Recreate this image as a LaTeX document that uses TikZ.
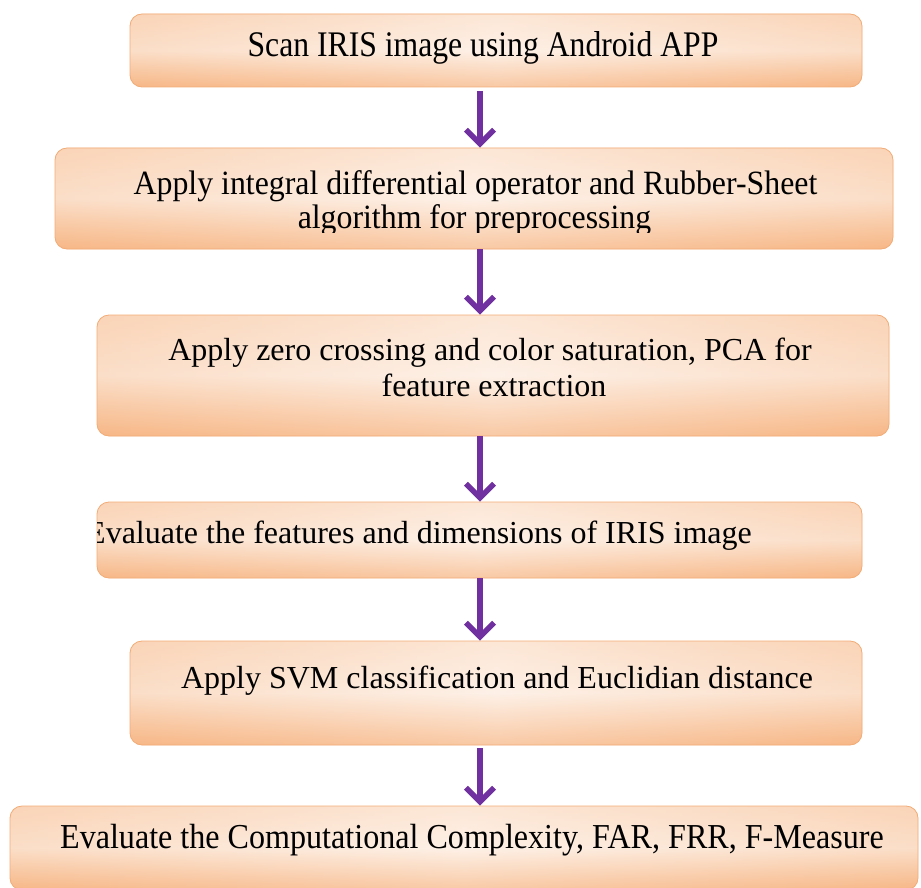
\documentclass[tikz,border=0pt]{standalone}
\usepackage{fontspec}
\setmainfont{Liberation Serif}
\usetikzlibrary{arrows.meta}

\definecolor{peachdark}{HTML}{F7B786}
\definecolor{peachlight}{HTML}{FDECDF}
\definecolor{peachedge}{HTML}{F2AC78}
\definecolor{flowpurple}{HTML}{7030A0}

\tikzset{
  stepbox/.style={
    draw=peachedge, line width=0.8pt, rounded corners=12pt, inner sep=0pt,
    fill=peachlight,
    path picture={
      \shade[left color=peachdark, right color=peachdark, middle color=peachlight]
        (path picture bounding box.south west) rectangle (path picture bounding box.north east);
      \shade[top color=peachlight!85!peachdark, bottom color=peachdark, middle color=white!40!peachlight, opacity=0.65]
        (path picture bounding box.south west) rectangle (path picture bounding box.north east);
    }},
  flow/.style={draw=flowpurple, line width=5.5pt, -{Straight Barb[length=14pt,width=28pt]}},
  steptext/.style={anchor=base, inner sep=0pt, font=\fontsize{32}{36}\selectfont},
  widetext/.style={anchor=base, inner sep=0pt, font=\fontsize{36}{40}\selectfont},
}

\begin{document}
\begin{tikzpicture}[x=1pt, y=-1pt]
  \useasboundingbox (0,0) rectangle (921,888);

  % process boxes
  \node[stepbox, minimum width=732pt, minimum height=73pt]  (b1) at (496,50.5) {};
  \node[stepbox, minimum width=838pt, minimum height=101pt] (b2) at (474,198.5) {};
  \node[stepbox, minimum width=792pt, minimum height=121pt] (b3) at (493,375.5) {};
  \node[stepbox, minimum width=765pt, minimum height=76pt]  (b4) at (479.5,540) {};
  \node[stepbox, minimum width=732pt, minimum height=104pt] (b5) at (496,693) {};
  \node[stepbox, minimum width=908pt, minimum height=84pt]  (b6) at (464,848) {};

  % box texts
  \node[widetext] (t1) at (483,57) {\scalebox{0.88}[1]{Scan IRIS image using Android APP}};
  \begin{scope}
    \clip (0,150) rectangle (921,232);
    \node[widetext, font=\fontsize{34}{38}\selectfont] (t2a) at (475.5,194) {\scalebox{0.936}[1]{Apply integral differential operator and Rubber-Sheet}};
    \node[widetext, font=\fontsize{34}{38}\selectfont] (t2b) at (474.5,228) {\scalebox{0.936}[1]{algorithm for preprocessing}};
  \end{scope}
  \node[steptext] (t3a) at (490,360) {Apply zero crossing and color saturation, PCA for};
  \node[steptext] (t3b) at (494,396) {feature extraction};
  \begin{scope}
    \clip[rounded corners=12pt] (b4.south west) rectangle (b4.north east);
    \node[steptext, anchor=base east] (t4) at (752,543) {Evaluate the features and dimensions of IRIS image};
  \end{scope}
  \node[steptext] (t5) at (497,688) {Apply SVM classification and Euclidian distance};
  \node[widetext, font=\fontsize{35}{38}\selectfont] (t6) at (472,848) {\scalebox{0.917}[1]{Evaluate the Computational Complexity, FAR, FRR, F-Measure}};

  % connectors
  \coordinate (ax) at (480,0);
  \draw[flow] ([yshift=-4pt]b1.south -| ax) -- (b2.north -| ax);
  \draw[flow] (b2.south -| ax) -- (b3.north -| ax);
  \draw[flow] (b3.south -| ax) -- (b4.north -| ax);
  \draw[flow] (b4.south -| ax) -- (b5.north -| ax);
  \draw[flow] ([yshift=-3pt]b5.south -| ax) -- (b6.north -| ax);
\end{tikzpicture}
\end{document}
